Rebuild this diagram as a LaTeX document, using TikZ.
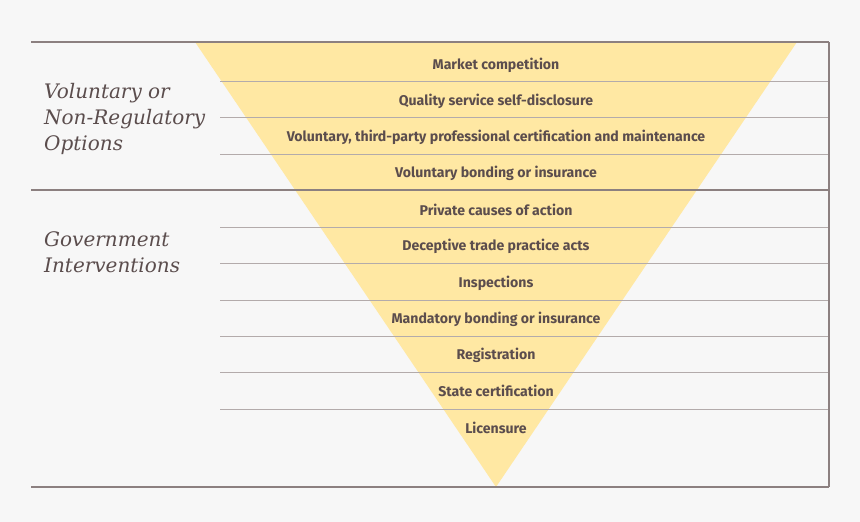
\documentclass[tikz,border=0pt]{standalone}
\usepackage{fontspec}
\setmainfont{Fira Sans}
\newfontfamily\labfont{DejaVu Serif}
\definecolor{bgc}{HTML}{F7F7F7}
\definecolor{tri}{HTML}{FFE8A3}
\definecolor{txt}{HTML}{5B4D4D}
\definecolor{darkline}{HTML}{8C8080}
\definecolor{thinline}{HTML}{B3ABAB}
\begin{document}
\begin{tikzpicture}[x=1pt,y=-1pt,
  rowlabel/.style={font=\fontsize{14.1}{16}\selectfont\bfseries, text=txt, inner sep=0pt, anchor=center},
  grouplabel/.style={font=\labfont\itshape\fontsize{20}{26}\selectfont, text=txt, inner sep=0pt, anchor=base west, align=left},
  thick rule/.style={draw=darkline, line width=1.6pt},
  thin rule/.style={draw=thinline, line width=1pt}]
\fill[bgc] (0,0) rectangle (860,522);
\useasboundingbox (0,0) rectangle (860,522);
% triangle
\coordinate (tl) at (195,42);
\coordinate (tr) at (797,42);
\coordinate (bt) at (496,487);
\fill[tri] (tl) -- (tr) -- (bt) -- cycle;
% thin rules
\foreach \y in {81,117,154,227,263,300,336,372,409}{
  \draw[thin rule] (220,\y) -- (829,\y);
}
% thick rules
\draw[thick rule] (31,42) -- (829,42);
\draw[thick rule] (31,190) -- (829,190);
\draw[thick rule] (31,487) -- (829,487);
\draw[draw=darkline, line width=1.2pt] (829,42) -- (829,487);
% row labels
\node[rowlabel] (r1) at (496,65) {Market competition};
\node[rowlabel] (r2) at (496,101) {Quality service self-disclosure};
\node[rowlabel] (r3) at (496,137) {Voluntary, third-party professional certification and maintenance};
\node[rowlabel] (r4) at (496,173) {Voluntary bonding or insurance};
\node[rowlabel] (r5) at (496,210) {Private causes of action};
\node[rowlabel] (r6) at (496,246) {Deceptive trade practice acts};
\node[rowlabel] (r7) at (496,283) {Inspections};
\node[rowlabel] (r8) at (496,319) {Mandatory bonding or insurance};
\node[rowlabel] (r9) at (496,355) {Registration};
\node[rowlabel] (r10) at (496,391) {State certification};
\node[rowlabel] (r11) at (496,428) {Licensure};
% group labels
\node[grouplabel] (g1) at (44,150) {Voluntary or\\Non-Regulatory\\Options};
\node[grouplabel] (g2) at (44,272) {Government\\Interventions};
\end{tikzpicture}
\end{document}
